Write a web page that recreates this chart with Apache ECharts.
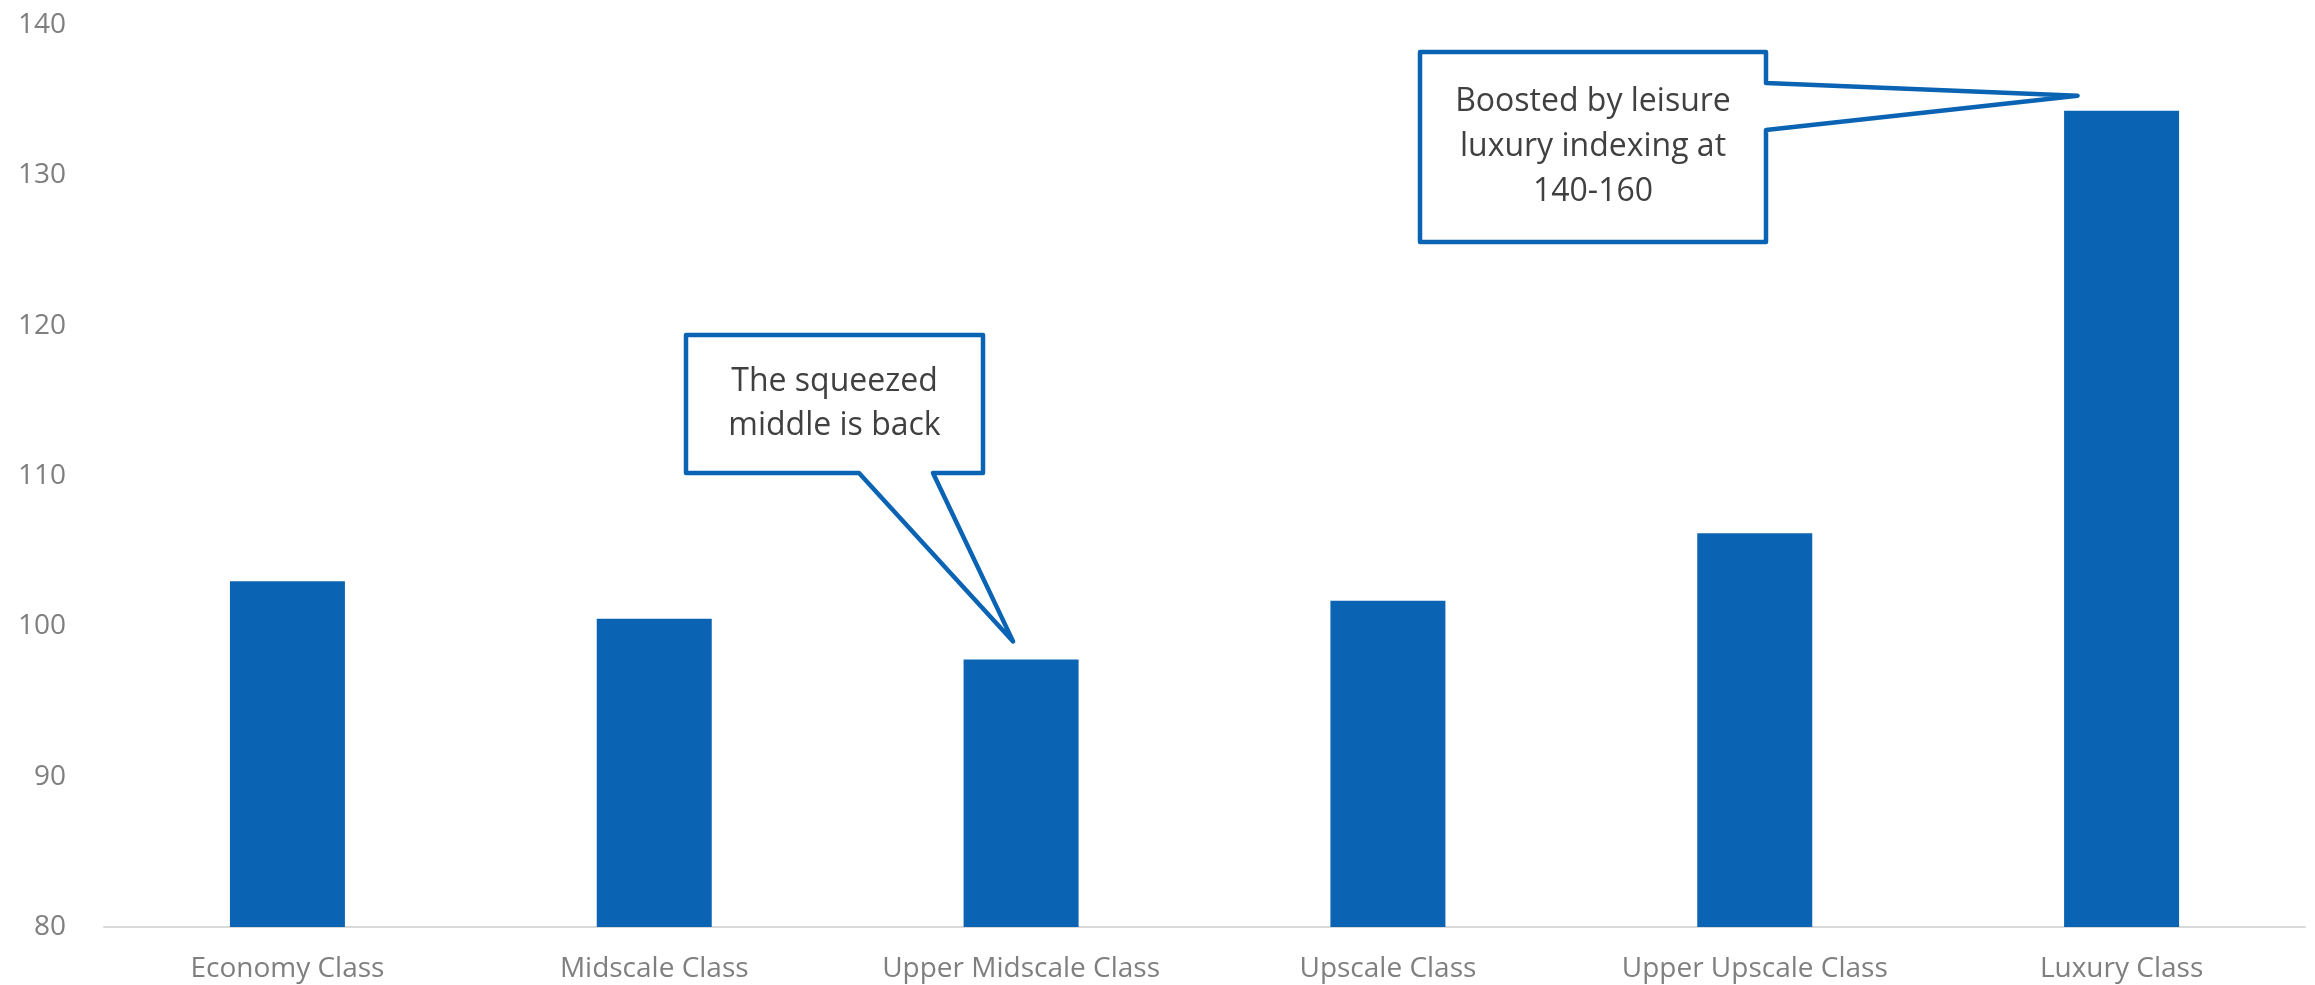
<!DOCTYPE html>
<html>
<head>
<meta charset="utf-8">
<script src="https://cdn.jsdelivr.net/npm/echarts@6/dist/echarts.min.js"></script>
<style>
  html, body { margin: 0; padding: 0; background: #fff; }
  #chart { width: 2315px; height: 985px; }
</style>
</head>
<body>
<div id="chart"></div>
<script>
// Hotel class categories and their index values
const categories = ['Economy Class', 'Midscale Class', 'Upper Midscale Class', 'Upscale Class', 'Upper Upscale Class', 'Luxury Class'];
const indexValues = [103.0, 100.5, 97.8, 101.7, 106.2, 134.3];
const yTicks = [80, 90, 100, 110, 120, 130, 140];

// Callout notes attached to particular bars
const notes = [
  { cat: 2, lines: ['The squeezed', 'middle is back'] },
  { cat: 5, lines: ['Boosted by leisure', 'luxury indexing at', '140-160'] }
];

const BLUE = '#0A63B3';
const FONT = '"Open Sans", "Noto Sans", sans-serif';

const chart = echarts.init(document.getElementById('chart'));

chart.setOption({
  animation: false,
  backgroundColor: '#ffffff',
  grid: { left: 104, right: 10, top: 25, bottom: 58 },
  xAxis: {
    type: 'category',
    data: categories,
    axisLine: { show: true, lineStyle: { color: '#D9D9D9', width: 2 } },
    axisTick: { show: false },
    axisLabel: { color: '#7F7F7F', fontSize: 28, fontFamily: FONT, margin: 28 }
  },
  yAxis: {
    type: 'value',
    min: yTicks[0],
    max: yTicks[yTicks.length - 1],
    interval: yTicks[1] - yTicks[0],
    axisLine: { show: false },
    axisTick: { show: false },
    splitLine: { show: false },
    axisLabel: { color: '#7F7F7F', fontSize: 28, fontFamily: FONT, margin: 38 }
  },
  series: [{
    type: 'bar',
    data: indexValues,
    barWidth: 115,
    itemStyle: { color: BLUE }
  }]
});

// Build the speech-bubble callouts, with pointer tips anchored to the bar tops
function callouts() {
  const top1 = chart.convertToPixel({ seriesIndex: 0 }, [notes[0].cat, indexValues[notes[0].cat]]);
  const top2 = chart.convertToPixel({ seriesIndex: 0 }, [notes[1].cat, indexValues[notes[1].cat]]);
  const tip1 = [top1[0] - 8, top1[1] - 18];
  const tip2 = [top2[0] - 44, top2[1] - 15];

  // Box 1: pointer leaves the bottom edge
  const b1 = { x0: 686, y0: 335, x1: 983, y1: 473 };
  const poly1 = [
    [b1.x0, b1.y0], [b1.x1, b1.y0], [b1.x1, b1.y1], [933, b1.y1],
    tip1, [859, b1.y1], [b1.x0, b1.y1]
  ];
  // Box 2: pointer leaves the right edge
  const b2 = { x0: 1420, y0: 52, x1: 1766, y1: 242 };
  const poly2 = [
    [b2.x0, b2.y0], [b2.x1, b2.y0], [b2.x1, 83], tip2,
    [b2.x1, 130], [b2.x1, b2.y1], [b2.x0, b2.y1]
  ];

  const bubble = (pts) => ({
    type: 'polygon',
    shape: { points: pts },
    style: { fill: '#ffffff', stroke: BLUE, lineWidth: 4.5, lineJoin: 'round' },
    z: 10
  });
  const label = (box, lines, lh) => ({
    type: 'text',
    x: (box.x0 + box.x1) / 2,
    y: (box.y0 + box.y1) / 2,
    style: {
      text: lines.join('\n'),
      fill: '#404040',
      font: '32px ' + FONT,
      lineHeight: lh,
      align: 'center',
      verticalAlign: 'middle'
    },
    z: 11
  });

  chart.setOption({
    graphic: [
      bubble(poly1), label(b1, notes[0].lines, 44),
      bubble(poly2), label(b2, notes[1].lines, 45)
    ]
  });
}
callouts();
</script>
</body>
</html>
